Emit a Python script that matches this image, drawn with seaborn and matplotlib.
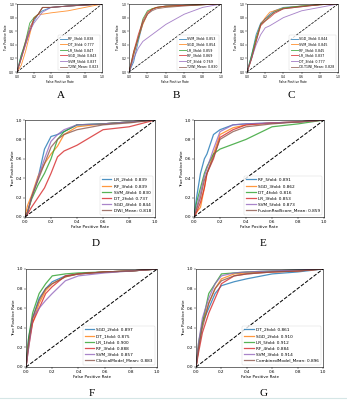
import pandas as pd
import matplotlib
matplotlib.use("Agg")
import matplotlib.pyplot as plt
import seaborn as sns

# ---- data ----
labels_A = ["RF_3fold: 0.838", "DT_3fold: 0.777", "LR_5fold: 0.847",
            "SGD_3fold: 0.843", "SVM_5fold: 0.837", "T2WI_Mean: 0.823"]
fpr_A = [0.0, 0.05, 0.1, 0.15, 0.2, 0.25, 0.3, 0.4, 0.6, 1.0]
tpr_A = [
    [0.0, 0.25, 0.42, 0.6, 0.75, 0.85, 0.9, 0.95, 0.97, 1.0],
    [0.0, 0.1, 0.3, 0.55, 0.8, 0.85, 0.85, 0.87, 0.9, 1.0],
    [0.0, 0.25, 0.45, 0.72, 0.8, 0.85, 0.95, 0.95, 0.97, 1.0],
    [0.0, 0.2, 0.4, 0.6, 0.78, 0.85, 0.95, 0.95, 0.97, 1.0],
    [0.0, 0.2, 0.4, 0.6, 0.72, 0.8, 0.88, 0.95, 0.97, 1.0],
    [0.0, 0.2, 0.45, 0.65, 0.78, 0.85, 0.95, 0.95, 0.97, 1.0],
]

labels_B = ["SVM_3fold: 0.853", "SGD_3fold: 0.854", "LR_3fold: 0.859",
            "RF_3fold: 0.869", "DT_3fold: 0.769", "T2WI_Mean: 0.830"]
fpr_B = [0.0, 0.05, 0.1, 0.15, 0.2, 0.25, 0.3, 0.4, 0.6, 0.8, 1.0]
tpr_B = [
    [0.0, 0.15, 0.45, 0.72, 0.85, 0.92, 0.95, 0.97, 0.98, 0.99, 1.0],
    [0.0, 0.25, 0.5, 0.7, 0.85, 0.93, 0.95, 0.96, 0.98, 0.99, 1.0],
    [0.0, 0.3, 0.5, 0.78, 0.9, 0.93, 0.95, 0.97, 0.98, 0.99, 1.0],
    [0.0, 0.3, 0.55, 0.75, 0.88, 0.92, 0.95, 0.97, 0.98, 0.99, 1.0],
    [0.0, 0.2, 0.35, 0.45, 0.5, 0.55, 0.6, 0.7, 0.85, 0.95, 1.0],
    [0.0, 0.25, 0.5, 0.72, 0.85, 0.9, 0.93, 0.95, 0.97, 0.99, 1.0],
]

labels_C = ["SGD_3fold: 0.844", "SVM_3fold: 0.845", "RF_3fold: 0.845",
            "LR_3fold: 0.837", "DT_3fold: 0.777", "CE-T1WI_Mean: 0.828"]
fpr_C = [0.0, 0.05, 0.1, 0.15, 0.2, 0.25, 0.3, 0.4, 0.6, 0.8, 1.0]
tpr_C = [
    [0.0, 0.25, 0.55, 0.72, 0.78, 0.85, 0.9, 0.95, 0.97, 0.99, 1.0],
    [0.0, 0.2, 0.5, 0.7, 0.8, 0.88, 0.9, 0.94, 0.97, 0.99, 1.0],
    [0.0, 0.25, 0.5, 0.7, 0.75, 0.82, 0.88, 0.94, 0.97, 0.99, 1.0],
    [0.0, 0.2, 0.45, 0.68, 0.75, 0.8, 0.86, 0.93, 0.96, 0.99, 1.0],
    [0.0, 0.2, 0.4, 0.55, 0.65, 0.68, 0.72, 0.8, 0.9, 0.95, 1.0],
    [0.0, 0.2, 0.45, 0.7, 0.78, 0.83, 0.88, 0.93, 0.96, 0.99, 1.0],
]

labels_D = ["LR_2fold: 0.839", "RF_3fold: 0.839", "SVM_4fold: 0.830",
            "DT_2fold: 0.737", "SGD_4fold: 0.844", "DWI_Mean: 0.818"]
fpr_D = [0.0, 0.02, 0.05, 0.1, 0.15, 0.2, 0.25, 0.3, 0.4, 0.6, 0.8, 1.0]
tpr_D = [
    [0.0, 0.05, 0.2, 0.4, 0.7, 0.83, 0.85, 0.88, 0.95, 0.96, 0.98, 1.0],
    [0.0, 0.12, 0.22, 0.42, 0.55, 0.65, 0.73, 0.85, 0.93, 0.96, 0.98, 1.0],
    [0.0, 0.05, 0.18, 0.33, 0.45, 0.6, 0.8, 0.88, 0.95, 0.96, 0.98, 1.0],
    [0.0, 0.03, 0.1, 0.2, 0.3, 0.45, 0.62, 0.68, 0.74, 0.9, 0.93, 1.0],
    [0.0, 0.05, 0.2, 0.4, 0.6, 0.78, 0.85, 0.9, 0.95, 0.96, 0.98, 1.0],
    [0.0, 0.05, 0.2, 0.38, 0.55, 0.72, 0.8, 0.85, 0.9, 0.95, 0.97, 1.0],
]

labels_E = ["RF_5fold: 0.891", "SGD_3fold: 0.862", "DT_4fold: 0.816",
            "LR_3fold: 0.853", "SVM_5fold: 0.873", "FusionRadScore_Mean: 0.859"]
fpr_E = [0.0, 0.02, 0.05, 0.08, 0.1, 0.15, 0.2, 0.3, 0.4, 0.6, 0.8, 1.0]
tpr_E = [
    [0.0, 0.2, 0.45, 0.6, 0.65, 0.85, 0.9, 0.95, 0.96, 0.97, 0.98, 1.0],
    [0.0, 0.05, 0.1, 0.3, 0.45, 0.65, 0.85, 0.92, 0.95, 0.97, 0.98, 1.0],
    [0.0, 0.15, 0.3, 0.45, 0.52, 0.65, 0.7, 0.75, 0.8, 0.93, 0.96, 1.0],
    [0.0, 0.05, 0.15, 0.3, 0.45, 0.6, 0.82, 0.9, 0.95, 0.97, 0.98, 1.0],
    [0.0, 0.1, 0.25, 0.42, 0.5, 0.7, 0.88, 0.95, 0.96, 0.97, 0.98, 1.0],
    [0.0, 0.08, 0.2, 0.38, 0.45, 0.62, 0.8, 0.88, 0.93, 0.96, 0.98, 1.0],
]

labels_F = ["SGD_2fold: 0.897", "DT_1fold: 0.875", "LR_1fold: 0.900",
            "RF_3fold: 0.888", "SVM_3fold: 0.857", "ClinicalModel_Mean: 0.883"]
fpr_F = [0.0, 0.02, 0.05, 0.1, 0.15, 0.2, 0.3, 0.4, 0.6, 0.8, 1.0]
tpr_F = [
    [0.0, 0.3, 0.5, 0.7, 0.8, 0.87, 0.93, 0.95, 0.97, 0.98, 1.0],
    [0.0, 0.25, 0.45, 0.65, 0.78, 0.85, 0.92, 0.95, 0.97, 0.98, 1.0],
    [0.0, 0.3, 0.55, 0.75, 0.85, 0.93, 0.95, 0.96, 0.97, 0.98, 1.0],
    [0.0, 0.2, 0.45, 0.6, 0.75, 0.82, 0.93, 0.95, 0.97, 0.98, 1.0],
    [0.0, 0.2, 0.5, 0.6, 0.68, 0.75, 0.88, 0.93, 0.96, 0.98, 1.0],
    [0.0, 0.25, 0.5, 0.68, 0.8, 0.85, 0.92, 0.95, 0.97, 0.98, 1.0],
]

labels_G = ["DT_2fold: 0.861", "SGD_2fold: 0.910", "LR_5fold: 0.912",
            "RF_4fold: 0.884", "SVM_3fold: 0.914", "CombinedModel_Mean: 0.896"]
fpr_G = [0.0, 0.02, 0.05, 0.1, 0.15, 0.2, 0.3, 0.4, 0.6, 0.8, 1.0]
tpr_G = [
    [0.0, 0.2, 0.45, 0.6, 0.75, 0.83, 0.87, 0.9, 0.95, 0.97, 1.0],
    [0.0, 0.2, 0.45, 0.65, 0.8, 0.9, 0.95, 0.96, 0.97, 0.98, 1.0],
    [0.0, 0.25, 0.45, 0.75, 0.85, 0.95, 0.96, 0.97, 0.98, 0.99, 1.0],
    [0.0, 0.15, 0.35, 0.55, 0.7, 0.85, 0.93, 0.95, 0.97, 0.98, 1.0],
    [0.0, 0.25, 0.5, 0.7, 0.85, 0.93, 0.96, 0.97, 0.98, 0.99, 1.0],
    [0.0, 0.2, 0.4, 0.65, 0.8, 0.88, 0.93, 0.95, 0.97, 0.98, 1.0],
]

ticks = [0.0, 0.2, 0.4, 0.6, 0.8, 1.0]

# panel: (data, axes rect in figure fraction, letter, letter position, size)
panels = [
    (fpr_A, tpr_A, labels_A, [0.049, 0.82, 0.245, 0.17], "A", (61, 95), "small"),
    (fpr_B, tpr_B, labels_B, [0.372, 0.82, 0.265, 0.17], "B", (176, 95), "small"),
    (fpr_C, tpr_C, labels_C, [0.712, 0.82, 0.262, 0.17], "C", (291, 95), "small"),
    (fpr_D, tpr_D, labels_D, [0.072, 0.4575, 0.375, 0.2425], "D", (96, 243), "big"),
    (fpr_E, tpr_E, labels_E, [0.559, 0.4575, 0.375, 0.2425], "E", (263, 243), "big"),
    (fpr_F, tpr_F, labels_F, [0.075, 0.0825, 0.378, 0.245], "F", (92, 393), "big"),
    (fpr_G, tpr_G, labels_G, [0.565, 0.0825, 0.366, 0.245], "G", (264, 393), "big"),
]

W, H = 347, 400
fig = plt.figure(figsize=(W / 100, H / 100), dpi=100)
palette = sns.color_palette("tab10", 6)

for fpr, tprs, labels, rect, letter, (lx, ly), size in panels:
    ax = fig.add_axes(rect)
    rows = []
    for lab, tpr in zip(labels, tprs):
        for x, y in zip(fpr, tpr):
            rows.append({"fpr": x, "tpr": y, "model": lab})
    df = pd.DataFrame(rows)

    fs = 2.2 if size == "small" else 3.0
    lfs = 2.3 if size == "small" else 3.1
    lw = 0.65 if size == "small" else 0.9
    sns.lineplot(data=df, x="fpr", y="tpr", hue="model", hue_order=labels,
                 palette=palette, sort=False, estimator=None, linewidth=lw,
                 alpha=0.8, ax=ax)
    ax.plot([0, 1], [0, 1], color="black", linestyle="--", linewidth=lw * 0.8)
    ax.set_xlim(0, 1)
    ax.set_ylim(0, 1)
    ax.set_xticks(ticks)
    ax.set_yticks(ticks)
    ax.tick_params(labelsize=fs, length=1.2, width=0.3, pad=0.8)
    ax.set_xlabel("False Positive Rate", fontsize=fs, labelpad=0.8)
    ax.set_ylabel("True Positive Rate", fontsize=fs, labelpad=0.8)
    for sp in ax.spines.values():
        sp.set_linewidth(0.4)
    leg = ax.legend(loc="lower right", fontsize=lfs, frameon=True,
                    handlelength=2.2, borderpad=0.5, labelspacing=0.5,
                    handletextpad=0.5)
    leg.get_frame().set_linewidth(0.3)
    for line in leg.get_lines():
        line.set_linewidth(lw)

    fig.text(lx / W, 1 - ly / H, letter, ha="center", va="center",
             fontsize=8, family="Liberation Serif")

fig.add_artist(plt.Line2D([0, 1], [1 - 398 / H, 1 - 398 / H],
                          color="#d5e6e6", linewidth=0.8))

fig.savefig("out.png", dpi=100, facecolor="white")
